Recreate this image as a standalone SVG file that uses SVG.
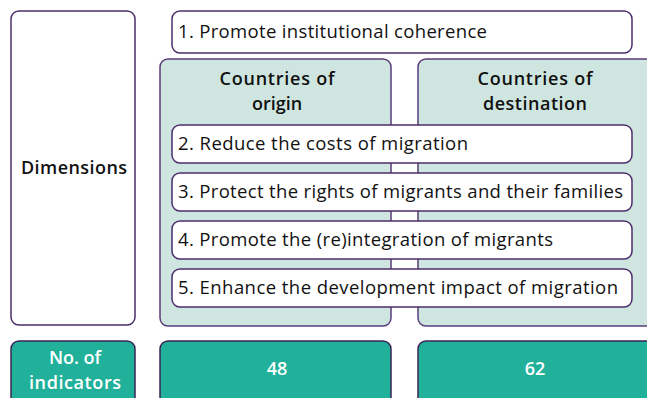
<svg xmlns="http://www.w3.org/2000/svg" width="647" height="398" viewBox="0 0 647 398">
<style>
.box{fill:#ffffff;stroke:#4b2e6b;stroke-width:1.5}
.lt{fill:#cfe6e0;stroke:#5a3d78;stroke-width:1.5}
.dk{fill:#21b19b;stroke:#3a2456;stroke-width:1.5}
text{font-family:"Open Sans","Noto Sans","Liberation Sans",sans-serif;font-size:18.5px;fill:#111}
.b{font-weight:600;text-anchor:middle;font-size:18px}
.w{fill:#ffffff}
</style>
<rect width="647" height="398" fill="#ffffff"/>
<g id="dimensions"><rect class="box" x="11" y="11" width="124" height="314" rx="8"/><text class="b" x="74" y="174" textLength="106">Dimensions</text></g>
<g id="origin"><rect class="lt" x="160" y="59" width="231" height="267" rx="8"/><text class="b" x="277" y="85" textLength="115">Countries of</text><text class="b" x="277" y="110">origin</text></g>
<g id="destination"><rect class="lt" x="418" y="59" width="236" height="267" rx="8"/><text class="b" x="535" y="85" textLength="115">Countries of</text><text class="b" x="535" y="110" textLength="104">destination</text></g>
<g id="d1"><rect class="box" x="172" y="11" width="460" height="42" rx="8"/><text x="178" y="38" textLength="309">1. Promote institutional coherence</text></g>
<g id="d2"><rect class="box" x="172" y="125" width="460" height="38" rx="8"/><text x="178" y="150" textLength="290">2. Reduce the costs of migration</text></g>
<g id="d3"><rect class="box" x="172" y="173" width="460" height="38" rx="8"/><text x="178" y="198" textLength="445">3. Protect the rights of migrants and their families</text></g>
<g id="d4"><rect class="box" x="172" y="221" width="460" height="38" rx="8"/><text x="178" y="246" textLength="375">4. Promote the (re)integration of migrants</text></g>
<g id="d5"><rect class="box" x="172" y="269" width="460" height="38" rx="8"/><text x="178" y="294" textLength="440">5. Enhance the development impact of migration</text></g>
<g id="indicators"><rect class="dk" x="11" y="341" width="124" height="70" rx="8"/><text class="b w" x="75" y="364">No. of</text><text class="b w" x="75" y="389" textLength="92">indicators</text></g>
<g id="n48"><rect class="dk" x="160" y="341" width="231" height="70" rx="8"/><text class="b w" x="277" y="375">48</text></g>
<g id="n62"><rect class="dk" x="418" y="341" width="236" height="70" rx="8"/><text class="b w" x="535" y="375">62</text></g>
<g id="connectors"></g>
</svg>
